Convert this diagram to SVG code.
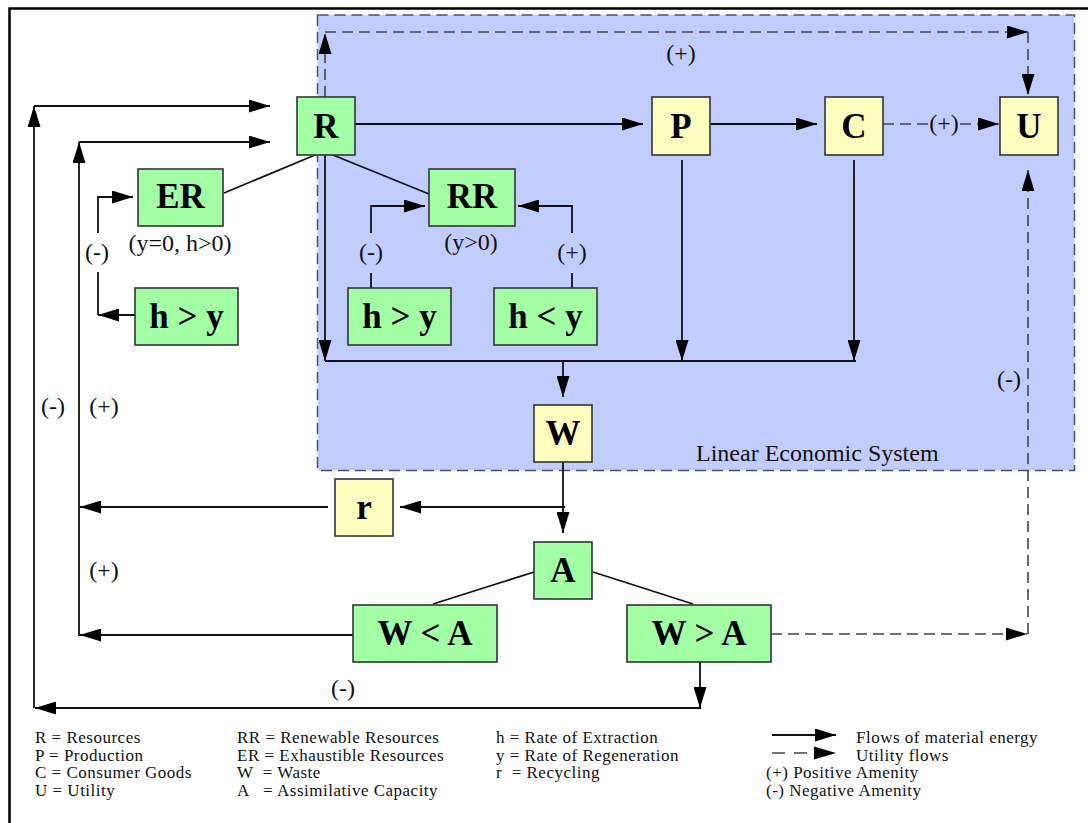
<svg xmlns="http://www.w3.org/2000/svg" width="1088" height="823" viewBox="0 0 1088 823">
<style>
.g{fill:#a3ffa3;stroke:#333;stroke-width:1.6}
.y{fill:#fdfdbd;stroke:#333;stroke-width:1.6}
.nt{font-family:"Liberation Serif","Times New Roman",serif;font-weight:bold;font-size:35px;text-anchor:middle;fill:#000}
.lb{font-family:"Liberation Serif","Times New Roman",serif;font-size:24px;fill:#111}
.lg{font-family:"Liberation Serif","Times New Roman",serif;font-size:17px;letter-spacing:0.5px;fill:#111;white-space:pre}
.s{fill:none;stroke:#111;stroke-width:1.8}
.sa{fill:none;stroke:#111;stroke-width:1.8;marker-end:url(#ah)}
.d{fill:none;stroke:#444;stroke-width:1.6;stroke-dasharray:11 6}
.da{fill:none;stroke:#444;stroke-width:1.6;stroke-dasharray:11 6;marker-end:url(#ah)}
</style>
<defs>
<marker id="ah" markerUnits="userSpaceOnUse" markerWidth="21" markerHeight="13" refX="21" refY="6.5" orient="auto">
<path d="M0,0 L21,6.5 L0,13 Z" fill="#000"/>
</marker>
</defs>
<rect width="1088" height="823" fill="#fff"/>
<rect x="9.5" y="8.5" width="1100" height="900" fill="none" stroke="#000" stroke-width="2.5"/>
<g id="linear-economic-system">
<rect x="317.5" y="15" width="757" height="455.5" fill="#c1cdfe" stroke="#4a5070" stroke-width="1.5" stroke-dasharray="11 6"/>
<text class="lb" x="696" y="460.5">Linear Economic System</text>
</g>
<g id="connectors">
<path class="da" d="M325,97 V33"/>
<path class="da" d="M325,32 H1028"/>
<path class="da" d="M1028,32 V95"/>
<text class="lb" x="681" y="61" text-anchor="middle">(+)</text>
<path class="sa" d="M355,124 H643"/>
<path class="sa" d="M710,124 H817"/>
<path class="d" d="M883,124 H928"/>
<path class="da" d="M960,124 H999"/>
<text class="lb" x="944" y="131" text-anchor="middle">(+)</text>
<path class="s" d="M315,155 L224,193"/>
<path class="s" d="M333,155 L429,194"/>
<path class="sa" d="M135,315 H98"/>
<path class="s" d="M98,315 V272"/>
<path class="sa" d="M98,233 V197 H133"/>
<text class="lb" x="97" y="260" text-anchor="middle">(-)</text>
<path class="s" d="M371,288 V273"/>
<path class="sa" d="M371,233 V206 H425"/>
<text class="lb" x="371" y="260" text-anchor="middle">(-)</text>
<path class="s" d="M572,288 V273"/>
<path class="sa" d="M572,233 V206 H518"/>
<text class="lb" x="572" y="260" text-anchor="middle">(+)</text>
<text class="lb" x="180" y="251" text-anchor="middle">(y=0, h&gt;0)</text>
<text class="lb" x="471" y="250" text-anchor="middle">(y&gt;0)</text>
<path class="sa" d="M325,155 V361"/>
<path class="sa" d="M682,160 V361"/>
<path class="sa" d="M854,160 V361"/>
<path class="s" d="M325,361 H856"/>
<path class="sa" d="M563,361 V397"/>
<path class="sa" d="M563,462 V533"/>
<path class="sa" d="M565,507 H400"/>
<path class="sa" d="M328,507 H80"/>
<path class="s" d="M534,572 L433,604"/>
<path class="s" d="M593,572 L693,604"/>
<path class="sa" d="M353,635 H80"/>
<path class="sa" d="M79,636 V142"/>
<path class="sa" d="M79,142 H270"/>
<text class="lb" x="104" y="414" text-anchor="middle">(+)</text>
<text class="lb" x="104" y="578" text-anchor="middle">(+)</text>
<path class="sa" d="M700,662 V708"/>
<path class="sa" d="M701,708 H35"/>
<path class="sa" d="M34,708 V106"/>
<path class="sa" d="M34,106 H270"/>
<text class="lb" x="53" y="414" text-anchor="middle">(-)</text>
<text class="lb" x="343" y="696" text-anchor="middle">(-)</text>
<path class="da" d="M771,634 H1027"/>
<path class="da" d="M1028,634 V170"/>
<text class="lb" x="1009" y="387" text-anchor="middle">(-)</text>
</g>
<g id="node-R"><rect class="g" x="297" y="97" width="58" height="58"/><text class="nt" x="326" y="137.5">R</text></g>
<g id="node-P"><rect class="y" x="652" y="97" width="58" height="58"/><text class="nt" x="681" y="137.5">P</text></g>
<g id="node-C"><rect class="y" x="825" y="97" width="58" height="58"/><text class="nt" x="854" y="137.5">C</text></g>
<g id="node-U"><rect class="y" x="1000" y="97" width="58" height="58"/><text class="nt" x="1029" y="137.5">U</text></g>
<g id="node-ER"><rect class="g" x="138" y="169" width="85" height="57"/><text class="nt" x="180.5" y="208">ER</text></g>
<g id="node-RR"><rect class="g" x="429" y="169" width="86" height="57"/><text class="nt" x="472" y="208">RR</text></g>
<g id="node-hy-left"><rect class="g" x="135" y="288" width="103" height="57"/><text class="nt" x="186.5" y="327.5">h &gt; y</text></g>
<g id="node-hy-mid"><rect class="g" x="348" y="288" width="103" height="57"/><text class="nt" x="399.5" y="327.5">h &gt; y</text></g>
<g id="node-hly"><rect class="g" x="494" y="288" width="103" height="57"/><text class="nt" x="545.5" y="327.5">h &lt; y</text></g>
<g id="node-W"><rect class="y" x="534" y="405" width="58" height="57"/><text class="nt" x="563" y="445">W</text></g>
<g id="node-r"><rect class="y" x="335" y="479" width="58" height="57"/><text class="nt" x="364" y="519">r</text></g>
<g id="node-A"><rect class="g" x="534" y="542" width="58" height="57"/><text class="nt" x="563" y="582">A</text></g>
<g id="node-WltA"><rect class="g" x="353" y="605" width="144" height="57"/><text class="nt" x="425" y="645">W &lt; A</text></g>
<g id="node-WgtA"><rect class="g" x="627" y="605" width="144" height="57"/><text class="nt" x="699" y="645">W &gt; A</text></g>
<g id="legend">
<text class="lg" x="35" y="743">R = Resources</text>
<text class="lg" x="35" y="760.5">P = Production</text>
<text class="lg" x="35" y="778">C = Consumer Goods</text>
<text class="lg" x="35" y="795.5">U = Utility</text>
<text class="lg" x="237" y="743">RR = Renewable Resources</text>
<text class="lg" x="237" y="760.5">ER = Exhaustible Resources</text>
<text class="lg" x="237" y="778">W  = Waste</text>
<text class="lg" x="237" y="795.5">A   = Assimilative Capacity</text>
<text class="lg" x="496" y="743">h = Rate of Extraction</text>
<text class="lg" x="496" y="760.5">y = Rate of Regeneration</text>
<text class="lg" x="496" y="778">r  = Recycling</text>
<path class="sa" d="M772,735 H836"/>
<path d="M772,753 H785 M794,753 H807" stroke="#444" stroke-width="1.4"/>
<path d="M814,746.5 L836,753 L814,759.5 Z" fill="#000"/>
<text class="lg" x="856" y="743">Flows of material energy</text>
<text class="lg" x="856" y="760.5">Utility flows</text>
<text class="lg" x="766" y="778">(+) Positive Amenity</text>
<text class="lg" x="766" y="795.5">(-) Negative Amenity</text>
</g>
</svg>
